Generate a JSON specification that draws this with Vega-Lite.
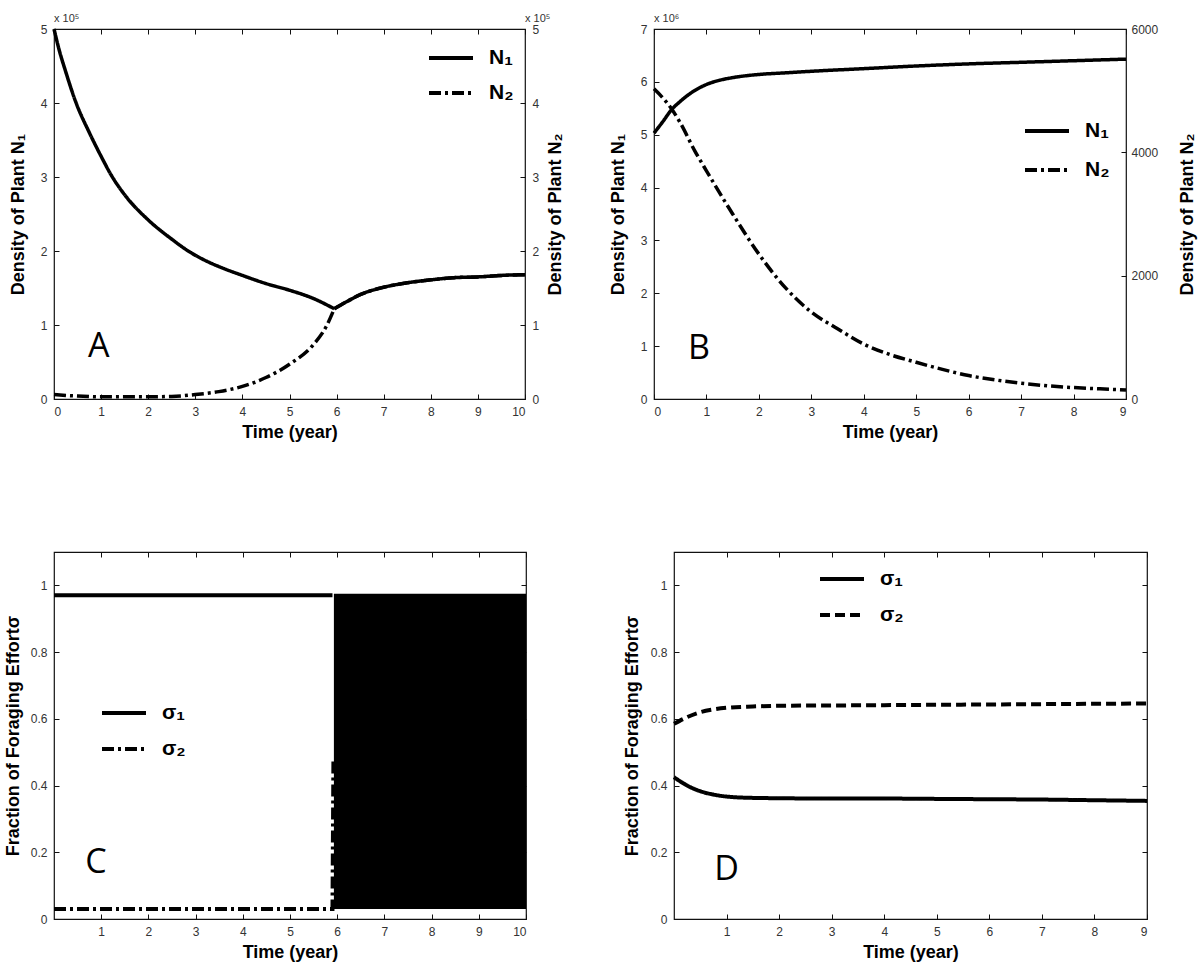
{
  "$schema": "https://vega.github.io/schema/vega-lite/v6.json",
  "padding": {"left": 3, "top": 12, "right": 0, "bottom": 0},
  "background": "white",
  "config": {
    "view": {"stroke": "#111", "strokeWidth": 1.2},
    "axis": {"grid": false, "domain": false, "tickSize": -5, "tickColor": "#111", "tickWidth": 1,
      "labelFont": "Liberation Sans", "labelFontSize": 12, "labelColor": "#333", "labelPadding": 12,
      "titleFont": "Liberation Sans", "titleFontSize": 18, "titleFontWeight": "bold", "titleColor": "#000", "titlePadding": 6},
    "legend": {"orient": "none", "symbolType": "stroke", "symbolStrokeWidth": 4, "symbolStrokeColor": "black",
      "symbolSize": 1936, "labelFont": "Liberation Sans", "labelFontSize": 21, "labelFontWeight": "bold", "labelColor": "black",
      "labelOffset": 14, "rowPadding": 2, "title": null},
    "text": {"font": "Liberation Sans", "color": "black"}
  },
  "datasets": {
    "A": [
      {"t": 0, "v": 5.0, "s": "N₁", "seg": 1}, {"t": 0.1, "v": 4.74, "s": "N₁", "seg": 1}, {"t": 0.25, "v": 4.42, "s": "N₁", "seg": 1},
      {"t": 0.47, "v": 4.0, "s": "N₁", "seg": 1}, {"t": 0.75, "v": 3.6, "s": "N₁", "seg": 1}, {"t": 1, "v": 3.28, "s": "N₁", "seg": 1},
      {"t": 1.22, "v": 3.02, "s": "N₁", "seg": 1}, {"t": 1.5, "v": 2.76, "s": "N₁", "seg": 1}, {"t": 2, "v": 2.42, "s": "N₁", "seg": 1},
      {"t": 2.5, "v": 2.16, "s": "N₁", "seg": 1}, {"t": 2.85, "v": 2.0, "s": "N₁", "seg": 1}, {"t": 3.25, "v": 1.86, "s": "N₁", "seg": 1},
      {"t": 3.5, "v": 1.79, "s": "N₁", "seg": 1}, {"t": 4, "v": 1.67, "s": "N₁", "seg": 1}, {"t": 4.5, "v": 1.56, "s": "N₁", "seg": 1},
      {"t": 5, "v": 1.47, "s": "N₁", "seg": 1}, {"t": 5.5, "v": 1.36, "s": "N₁", "seg": 1}, {"t": 5.95, "v": 1.22, "s": "N₁", "seg": 1},
      {"t": 5.95, "v": 1.22, "s": "N₁", "seg": 2}, {"t": 6.2, "v": 1.31, "s": "N₁", "seg": 2}, {"t": 6.5, "v": 1.41, "s": "N₁", "seg": 2},
      {"t": 7, "v": 1.51, "s": "N₁", "seg": 2}, {"t": 7.5, "v": 1.57, "s": "N₁", "seg": 2}, {"t": 8, "v": 1.61, "s": "N₁", "seg": 2},
      {"t": 8.5, "v": 1.64, "s": "N₁", "seg": 2}, {"t": 9, "v": 1.65, "s": "N₁", "seg": 2}, {"t": 9.5, "v": 1.67, "s": "N₁", "seg": 2},
      {"t": 10, "v": 1.68, "s": "N₁", "seg": 2},
      {"t": 0, "v": 0.06, "s": "N₂", "seg": 1}, {"t": 0.5, "v": 0.04, "s": "N₂", "seg": 1}, {"t": 1, "v": 0.03, "s": "N₂", "seg": 1},
      {"t": 2, "v": 0.03, "s": "N₂", "seg": 1}, {"t": 2.5, "v": 0.035, "s": "N₂", "seg": 1}, {"t": 3, "v": 0.06, "s": "N₂", "seg": 1},
      {"t": 3.5, "v": 0.1, "s": "N₂", "seg": 1}, {"t": 4, "v": 0.17, "s": "N₂", "seg": 1}, {"t": 4.5, "v": 0.29, "s": "N₂", "seg": 1},
      {"t": 5, "v": 0.47, "s": "N₂", "seg": 1}, {"t": 5.5, "v": 0.73, "s": "N₂", "seg": 1}, {"t": 5.78, "v": 0.98, "s": "N₂", "seg": 1},
      {"t": 5.95, "v": 1.22, "s": "N₂", "seg": 1}, {"t": 5.95, "v": 1.22, "s": "N₂", "seg": 2}, {"t": 6.2, "v": 1.31, "s": "N₂", "seg": 2},
      {"t": 6.5, "v": 1.41, "s": "N₂", "seg": 2}, {"t": 7, "v": 1.51, "s": "N₂", "seg": 2}, {"t": 7.5, "v": 1.57, "s": "N₂", "seg": 2},
      {"t": 8, "v": 1.61, "s": "N₂", "seg": 2}, {"t": 8.5, "v": 1.64, "s": "N₂", "seg": 2}, {"t": 9, "v": 1.65, "s": "N₂", "seg": 2},
      {"t": 9.5, "v": 1.67, "s": "N₂", "seg": 2}, {"t": 10, "v": 1.68, "s": "N₂", "seg": 2}
    ],
    "Alabel": [{"t": 0.95, "v": 0.7, "label": "A"}],
    "Aexp": [{"t": 0, "v": 5, "label": "x 10⁵"}, {"t": 10, "v": 5, "label": "x 10⁵"}],
    "B1": [
      {"t": 0, "v": 5.03, "s": "N₁"}, {"t": 0.17, "v": 5.25, "s": "N₁"}, {"t": 0.34, "v": 5.48, "s": "N₁"}, {"t": 0.5, "v": 5.63, "s": "N₁"},
      {"t": 0.75, "v": 5.82, "s": "N₁"}, {"t": 1, "v": 5.95, "s": "N₁"}, {"t": 1.25, "v": 6.03, "s": "N₁"}, {"t": 1.5, "v": 6.08, "s": "N₁"},
      {"t": 2, "v": 6.14, "s": "N₁"}, {"t": 2.5, "v": 6.17, "s": "N₁"}, {"t": 3, "v": 6.2, "s": "N₁"}, {"t": 4, "v": 6.25, "s": "N₁"},
      {"t": 5, "v": 6.3, "s": "N₁"}, {"t": 6, "v": 6.34, "s": "N₁"}, {"t": 7, "v": 6.37, "s": "N₁"}, {"t": 8, "v": 6.4, "s": "N₁"},
      {"t": 9, "v": 6.43, "s": "N₁"}
    ],
    "B2": [
      {"t": 0, "v": 5030, "s": "N₂"}, {"t": 0.15, "v": 4900, "s": "N₂"}, {"t": 0.34, "v": 4700, "s": "N₂"}, {"t": 0.5, "v": 4480, "s": "N₂"},
      {"t": 0.78, "v": 4020, "s": "N₂"}, {"t": 1, "v": 3700, "s": "N₂"}, {"t": 1.5, "v": 3000, "s": "N₂"}, {"t": 2, "v": 2350, "s": "N₂"},
      {"t": 2.5, "v": 1810, "s": "N₂"}, {"t": 3, "v": 1410, "s": "N₂"}, {"t": 3.5, "v": 1140, "s": "N₂"}, {"t": 4, "v": 890, "s": "N₂"},
      {"t": 4.5, "v": 720, "s": "N₂"}, {"t": 5, "v": 595, "s": "N₂"}, {"t": 5.5, "v": 480, "s": "N₂"}, {"t": 6, "v": 380, "s": "N₂"},
      {"t": 6.5, "v": 310, "s": "N₂"}, {"t": 7, "v": 255, "s": "N₂"}, {"t": 7.5, "v": 215, "s": "N₂"}, {"t": 8, "v": 185, "s": "N₂"},
      {"t": 8.5, "v": 165, "s": "N₂"}, {"t": 9, "v": 145, "s": "N₂"}
    ],
    "Blabel": [{"t": 0.86, "v": 0.95, "label": "B"}],
    "Bexp": [{"t": 0, "v": 7, "label": "x 10⁶"}],
    "C": [
      {"t": 0, "v": 0.97, "s": "σ₁"}, {"t": 5.9, "v": 0.97, "s": "σ₁"},
      {"t": 0, "v": 0.03, "s": "σ₂"}, {"t": 5.9, "v": 0.03, "s": "σ₂"}, {"t": 5.92, "v": 0.48, "s": "σ₂"}
    ],
    "Cband": [{"t1": 5.93, "t2": 10, "lo": 0.03, "hi": 0.975}],
    "Clabel": [{"t": 0.89, "v": 0.168, "label": "C"}],
    "D": [
      {"t": 0, "v": 0.425, "s": "σ₁"}, {"t": 0.25, "v": 0.4, "s": "σ₁"}, {"t": 0.5, "v": 0.383, "s": "σ₁"}, {"t": 0.75, "v": 0.373, "s": "σ₁"},
      {"t": 1, "v": 0.367, "s": "σ₁"}, {"t": 1.5, "v": 0.363, "s": "σ₁"}, {"t": 2, "v": 0.362, "s": "σ₁"}, {"t": 3, "v": 0.361, "s": "σ₁"},
      {"t": 4, "v": 0.361, "s": "σ₁"}, {"t": 5, "v": 0.36, "s": "σ₁"}, {"t": 6, "v": 0.359, "s": "σ₁"}, {"t": 7, "v": 0.358, "s": "σ₁"},
      {"t": 8, "v": 0.356, "s": "σ₁"}, {"t": 9, "v": 0.354, "s": "σ₁"},
      {"t": 0, "v": 0.585, "s": "σ₂"}, {"t": 0.25, "v": 0.605, "s": "σ₂"}, {"t": 0.5, "v": 0.62, "s": "σ₂"}, {"t": 0.75, "v": 0.628, "s": "σ₂"},
      {"t": 1, "v": 0.633, "s": "σ₂"}, {"t": 1.5, "v": 0.637, "s": "σ₂"}, {"t": 2, "v": 0.639, "s": "σ₂"}, {"t": 3, "v": 0.64, "s": "σ₂"},
      {"t": 4, "v": 0.641, "s": "σ₂"}, {"t": 5, "v": 0.642, "s": "σ₂"}, {"t": 6, "v": 0.643, "s": "σ₂"}, {"t": 7, "v": 0.644, "s": "σ₂"},
      {"t": 8, "v": 0.645, "s": "σ₂"}, {"t": 9, "v": 0.646, "s": "σ₂"}
    ],
    "Dlabel": [{"t": 1.0, "v": 0.147, "label": "D"}]
  },
  "resolve": {"scale": {"strokeDash": "independent"}, "legend": {"strokeDash": "independent"}},
  "vconcat": [
    {
      "resolve": {"scale": {"strokeDash": "independent"}, "legend": {"strokeDash": "independent"}},
      "hconcat": [
        {
          "width": 471, "height": 370,
          "resolve": {"axis": {"x": "independent", "y": "independent"}},
          "layer": [
            {
              "data": {"name": "A"},
              "mark": {"type": "line", "color": "black", "strokeWidth": 3.5, "interpolate": "monotone"},
              "encoding": {
                "x": {"field": "t", "type": "quantitative", "scale": {"domain": [0, 10], "nice": false, "zero": false},
                  "axis": {"orient": "bottom", "values": [0, 1, 2, 3, 4, 5, 6, 7, 8, 9, 10], "title": "Time (year)"}},
                "y": {"field": "v", "type": "quantitative", "scale": {"domain": [0, 5], "nice": false},
                  "axis": {"orient": "left", "values": [0, 1, 2, 3, 4, 5], "title": "Density of Plant N₁", "titlePadding": 13}},
                "strokeDash": {"field": "s", "type": "nominal", "scale": {"domain": ["N₁", "N₂"], "range": [[1, 0], [12, 4, 3, 4]]},
                  "legend": {"legendX": 373, "legendY": 5, "rowPadding": 1}},
                "detail": {"field": "seg", "type": "nominal"}
              }
            },
            {
              "data": {"name": "Alabel"},
              "mark": {"type": "text", "font": "Open Sans", "fontSize": 34},
              "encoding": {
                "x": {"field": "t", "type": "quantitative", "axis": {"orient": "top", "labels": false, "title": null, "values": [0, 1, 2, 3, 4, 5, 6, 7, 8, 9, 10]}},
                "y": {"field": "v", "type": "quantitative",
                  "axis": {"orient": "right", "values": [0, 1, 2, 3, 4, 5], "title": "Density of Plant N₂", "titleAngle": -90, "titleBaseline": "top", "titlePadding": 8}},
                "text": {"field": "label"}
              }
            },
            {
              "data": {"name": "Aexp"},
              "mark": {"type": "text", "align": "left", "baseline": "bottom", "dy": -5, "fontSize": 11, "color": "#333"},
              "encoding": {
                "x": {"field": "t", "type": "quantitative", "axis": null},
                "y": {"field": "v", "type": "quantitative", "axis": null},
                "text": {"field": "label"}
              }
            }
          ]
        },
        {
          "width": 472, "height": 370,
          "resolve": {"scale": {"y": "independent"}, "axis": {"x": "independent", "y": "independent"}},
          "layer": [
            {
              "data": {"name": "B1"},
              "mark": {"type": "line", "color": "black", "strokeWidth": 3.5, "interpolate": "monotone"},
              "encoding": {
                "x": {"field": "t", "type": "quantitative", "scale": {"domain": [0, 9], "nice": false, "zero": false},
                  "axis": {"orient": "bottom", "values": [0, 1, 2, 3, 4, 5, 6, 7, 8, 9], "title": "Time (year)"}},
                "y": {"field": "v", "type": "quantitative", "scale": {"domain": [0, 7], "nice": false},
                  "axis": {"orient": "left", "values": [0, 1, 2, 3, 4, 5, 6, 7], "title": "Density of Plant N₁", "titlePadding": 13}},
                "strokeDash": {"field": "s", "type": "nominal", "scale": {"domain": ["N₁", "N₂"], "range": [[1, 0], [12, 4, 3, 4]]},
                  "legend": {"legendX": 369, "legendY": 78, "rowPadding": 5}}
              }
            },
            {
              "data": {"name": "B2"},
              "mark": {"type": "line", "color": "black", "strokeWidth": 3.5, "interpolate": "monotone"},
              "encoding": {
                "x": {"field": "t", "type": "quantitative", "axis": {"orient": "top", "labels": false, "title": null, "values": [0, 1, 2, 3, 4, 5, 6, 7, 8, 9]}},
                "y": {"field": "v", "type": "quantitative", "scale": {"domain": [0, 6000], "nice": false},
                  "axis": {"orient": "right", "values": [0, 2000, 4000, 6000], "format": "d", "title": "Density of Plant N₂", "titleAngle": -90, "titleBaseline": "top", "titlePadding": 21, "labelPadding": 10}},
                "strokeDash": {"field": "s", "type": "nominal", "scale": {"domain": ["N₁", "N₂"], "range": [[1, 0], [12, 4, 3, 4]]}}
              }
            },
            {
              "data": {"name": "Blabel"},
              "mark": {"type": "text", "font": "Open Sans", "fontSize": 34},
              "encoding": {
                "x": {"field": "t", "type": "quantitative", "axis": null},
                "y": {"field": "v", "type": "quantitative", "scale": {"domain": [0, 7], "nice": false}, "axis": null},
                "text": {"field": "label"}
              }
            },
            {
              "data": {"name": "Bexp"},
              "mark": {"type": "text", "align": "left", "baseline": "bottom", "dy": -5, "fontSize": 11, "color": "#333"},
              "encoding": {
                "x": {"field": "t", "type": "quantitative", "axis": null},
                "y": {"field": "v", "type": "quantitative", "scale": {"domain": [0, 7], "nice": false}, "axis": null},
                "text": {"field": "label"}
              }
            }
          ]
        }
      ],
      "spacing": 129,
      "bounds": "flush"
    },
    {
      "resolve": {"scale": {"strokeDash": "independent"}, "legend": {"strokeDash": "independent"}},
      "hconcat": [
        {
          "width": 472, "height": 367,
          "resolve": {"axis": {"x": "independent", "y": "independent"}},
          "layer": [
            {
              "data": {"name": "Cband"},
              "mark": {"type": "rect", "color": "black"},
              "encoding": {
                "x": {"field": "t1", "type": "quantitative", "scale": {"domain": [0, 10], "nice": false, "zero": false},
                  "axis": {"orient": "bottom", "values": [1, 2, 3, 4, 5, 6, 7, 8, 9, 10], "title": "Time (year)"}},
                "x2": {"field": "t2"},
                "y": {"field": "lo", "type": "quantitative", "scale": {"domain": [0, 1.1], "nice": false},
                  "axis": {"orient": "left", "values": [0, 0.2, 0.4, 0.6, 0.8, 1], "format": "~g", "title": "Fraction of Foraging Effortσ", "titlePadding": 8}},
                "y2": {"field": "hi"}
              }
            },
            {
              "data": {"name": "C"},
              "mark": {"type": "line", "color": "black", "strokeWidth": 4},
              "encoding": {
                "x": {"field": "t", "type": "quantitative", "axis": {"orient": "top", "labels": false, "title": null, "values": [1, 2, 3, 4, 5, 6, 7, 8, 9, 10]}},
                "y": {"field": "v", "type": "quantitative", "axis": {"orient": "right", "labels": false, "title": null, "values": [0, 0.2, 0.4, 0.6, 0.8, 1]}},
                "strokeDash": {"field": "s", "type": "nominal", "scale": {"domain": ["σ₁", "σ₂"], "range": [[1, 0], [12, 4, 3, 4]]},
                  "legend": {"legendX": 46, "legendY": 137}}
              }
            },
            {
              "data": {"name": "Clabel"},
              "mark": {"type": "text", "font": "Open Sans", "fontSize": 34},
              "encoding": {
                "x": {"field": "t", "type": "quantitative", "axis": null},
                "y": {"field": "v", "type": "quantitative", "axis": null},
                "text": {"field": "label"}
              }
            }
          ]
        },
        {
          "width": 473, "height": 367,
          "resolve": {"axis": {"x": "independent", "y": "independent"}},
          "layer": [
            {
              "data": {"name": "D"},
              "mark": {"type": "line", "color": "black", "strokeWidth": 4, "interpolate": "monotone"},
              "encoding": {
                "x": {"field": "t", "type": "quantitative", "scale": {"domain": [0, 9], "nice": false, "zero": false},
                  "axis": {"orient": "bottom", "values": [1, 2, 3, 4, 5, 6, 7, 8, 9], "title": "Time (year)"}},
                "y": {"field": "v", "type": "quantitative", "scale": {"domain": [0, 1.1], "nice": false},
                  "axis": {"orient": "left", "values": [0, 0.2, 0.4, 0.6, 0.8, 1], "format": "~g", "title": "Fraction of Foraging Effortσ", "titlePadding": 9}},
                "strokeDash": {"field": "s", "type": "nominal", "scale": {"domain": ["σ₁", "σ₂"], "range": [[1, 0], [10, 5]]},
                  "legend": {"legendX": 144, "legendY": 3}}
              }
            },
            {
              "data": {"name": "Dlabel"},
              "mark": {"type": "text", "font": "Open Sans", "fontSize": 34},
              "encoding": {
                "x": {"field": "t", "type": "quantitative", "axis": {"orient": "top", "labels": false, "title": null, "values": [1, 2, 3, 4, 5, 6, 7, 8, 9]}},
                "y": {"field": "v", "type": "quantitative", "axis": {"orient": "right", "labels": false, "title": null, "values": [0, 0.2, 0.4, 0.6, 0.8, 1]}},
                "text": {"field": "label"}
              }
            }
          ]
        }
      ],
      "spacing": 148,
      "bounds": "flush"
    }
  ],
  "spacing": 523,
  "bounds": "flush"
}
